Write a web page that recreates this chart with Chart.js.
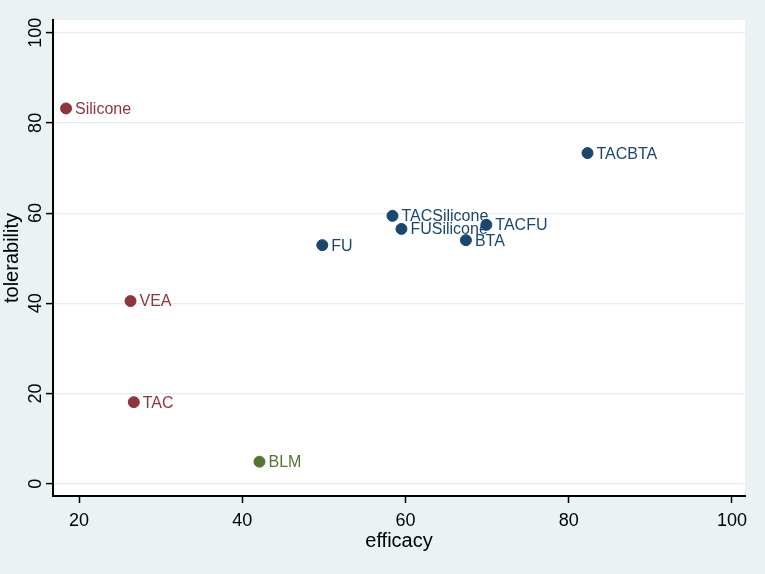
<!DOCTYPE html>
<html>
<head>
<meta charset="utf-8">
<script src="https://cdn.jsdelivr.net/npm/chart.js@4/dist/chart.umd.min.js"></script>
<style>
  html, body { margin: 0; padding: 0; background: #eaf2f3; }
  #wrap { width: 765px; height: 574px; position: relative; }
</style>
</head>
<body>
<div id="wrap"><canvas id="scatter"></canvas></div>
<script>
// treatments
const names = ['Silicone', 'VEA', 'TAC', 'BLM', 'FU', 'TACSilicone', 'FUSilicone', 'BTA', 'TACFU', 'TACBTA'];
const efficacy = [18.4, 26.3, 26.7, 42.1, 49.8, 58.4, 59.5, 67.4, 69.9, 82.3];
const tolerability = [83.2, 40.5, 18.1, 4.9, 52.9, 59.4, 56.5, 54.0, 57.4, 73.3];
const group = [0, 0, 0, 2, 1, 1, 1, 1, 1, 1];   // 0 maroon, 1 navy, 2 green

const xTicks = [20, 40, 60, 80, 100];
const yTicks = [0, 20, 40, 60, 80, 100];

const groupColors = ['#90353b', '#1a476f', '#55752f'];
const bgColor = '#eaf2f3';
const gridColor = '#e4edef';
const fontFamily = '"Liberation Sans", Arial, sans-serif';

const points = efficacy.map((x, i) => ({ x: x, y: tolerability[i] }));
const pointColors = group.map(g => groupColors[g]);

// outer background + white plot region
const backgroundPlugin = {
    id: 'stataBackground',
    beforeDraw(chart) {
        const { ctx, chartArea } = chart;
        ctx.save();
        ctx.fillStyle = bgColor;
        ctx.fillRect(0, 0, chart.width, chart.height);
        ctx.fillStyle = '#ffffff';
        ctx.fillRect(chartArea.left, chartArea.top, chartArea.right - chartArea.left, chartArea.bottom - chartArea.top);
        ctx.restore();
    }
};

// marker labels to the right of each point
const labelPlugin = {
    id: 'pointLabels',
    afterDatasetsDraw(chart) {
        const { ctx } = chart;
        const meta = chart.getDatasetMeta(0);
        ctx.save();
        ctx.font = '16px ' + fontFamily;
        ctx.textAlign = 'left';
        ctx.textBaseline = 'middle';
        meta.data.forEach((pt, i) => {
            ctx.fillStyle = groupColors[group[i]];
            ctx.fillText(names[i], pt.x + 9, pt.y + 1);
        });
        ctx.restore();
    }
};

new Chart(document.getElementById('scatter'), {
    type: 'scatter',
    data: {
        datasets: [{
            data: points,
            backgroundColor: pointColors,
            borderColor: pointColors,
            borderWidth: 1,
            pointRadius: 5.5,
            pointHoverRadius: 5.5
        }]
    },
    options: {
        responsive: true,
        maintainAspectRatio: false,
        animation: false,
        events: [],
        layout: { padding: { top: 20, right: 20, bottom: 0, left: 0 } },
        plugins: {
            legend: { display: false },
            tooltip: { enabled: false }
        },
        scales: {
            x: {
                type: 'linear',
                min: 16.8,
                max: 101.6,
                afterBuildTicks: (scale) => { scale.ticks = xTicks.map(v => ({ value: v })); },
                afterFit: (scale) => { scale.height = 78; },
                border: { display: true, color: '#000', width: 2 },
                grid: { drawOnChartArea: false, drawTicks: true, tickLength: 7, tickColor: '#000', tickWidth: 1.5 },
                ticks: { color: '#000', padding: 7, font: { family: fontFamily, size: 18 } },
                title: { display: true, text: 'efficacy', color: '#000', padding: { top: 0, bottom: 21 }, font: { family: fontFamily, size: 20 } }
            },
            y: {
                type: 'linear',
                min: -2.7,
                max: 102.8,
                afterBuildTicks: (scale) => { scale.ticks = yTicks.map(v => ({ value: v })); },
                afterFit: (scale) => { scale.width = 53; },
                border: { display: true, color: '#000', width: 2 },
                grid: { color: gridColor, lineWidth: 1.2, drawTicks: true, tickLength: 7, tickColor: '#000', tickWidth: 1.5 },
                ticks: { color: '#000', padding: -5, minRotation: 90, maxRotation: 90, crossAlign: 'center', font: { family: fontFamily, size: 18 } },
                title: { display: true, text: 'tolerability', color: '#000', padding: { top: 0, bottom: 0 }, font: { family: fontFamily, size: 20 } }
            }
        }
    },
    plugins: [backgroundPlugin, labelPlugin]
});
</script>
</body>
</html>
